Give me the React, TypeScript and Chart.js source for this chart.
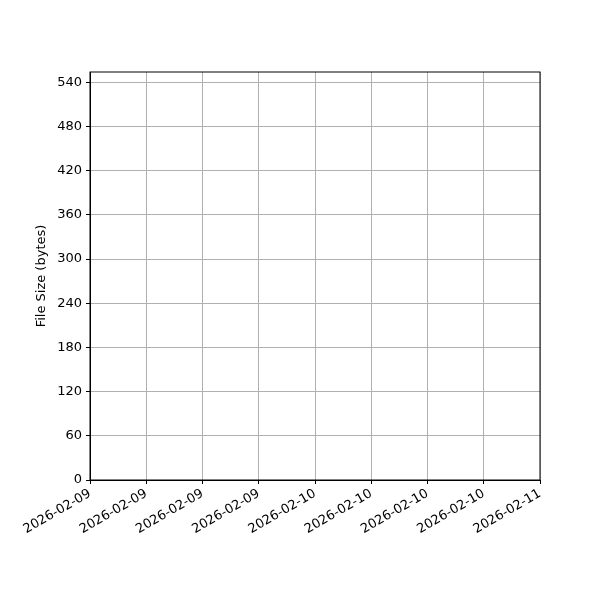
import { useEffect, useRef } from "react"
import Chart from "chart.js/auto"

// time axis: hours since 2026-02-09 00:00, ticks every 6 hours
const xTickLabels = [
  "2026-02-09",
  "2026-02-09",
  "2026-02-09",
  "2026-02-09",
  "2026-02-10",
  "2026-02-10",
  "2026-02-10",
  "2026-02-10",
  "2026-02-11",
]
const xStepHours = 6
const yTicksStep = 60
const yMax = 554

// the plot holds no visible points
const sampleHours: number[] = []
const fileSizes: number[] = []

const boxPlugin = {
  id: "box",
  afterDraw(chart: Chart) {
    const { ctx, chartArea } = chart
    ctx.save()
    ctx.strokeStyle = "#000"
    ctx.lineWidth = 1
    ctx.strokeRect(chartArea.left, chartArea.top, chartArea.right - chartArea.left, chartArea.bottom - chartArea.top)
    ctx.restore()
  },
}

export default function App() {
  const canvasRef = useRef<HTMLCanvasElement>(null)

  useEffect(() => {
    if (!canvasRef.current) return
    const font = { family: "DejaVu Sans", size: 13 }
    const chart = new Chart(canvasRef.current, {
      type: "line",
      data: {
        datasets: [
          {
            label: "File Size",
            data: sampleHours.map((h, i) => ({ x: h, y: fileSizes[i] })),
            borderColor: "#1f77b4",
            backgroundColor: "#1f77b4",
          },
        ],
      },
      options: {
        animation: false,
        responsive: false,
        layout: { padding: { top: 72, right: 60, left: 0, bottom: 0 } },
        plugins: { legend: { display: false }, tooltip: { enabled: false } },
        scales: {
          x: {
            type: "linear",
            min: 0,
            max: (xTickLabels.length - 1) * xStepHours,
            afterFit: (scale: any) => {
              scale.height = 120
            },
            ticks: {
              stepSize: xStepHours,
              autoSkip: false,
              minRotation: 30,
              maxRotation: 30,
              padding: 2,
              color: "#000",
              font,
              callback: (v: any) => xTickLabels[Math.round(Number(v) / xStepHours)] ?? "",
            },
            grid: { color: "#b0b0b0", tickColor: "#000", tickLength: 4 },
            border: { color: "#000" },
          },
          y: {
            min: 0,
            max: yMax,
            afterFit: (scale: any) => {
              scale.width = 90
            },
            title: {
              display: true,
              text: "File Size (bytes)",
              color: "#000",
              font,
              padding: { top: 34, bottom: 0 },
            },
            ticks: {
              stepSize: yTicksStep,
              includeBounds: false,
              padding: 4,
              color: "#000",
              font,
            },
            grid: { color: "#b0b0b0", tickColor: "#000", tickLength: 4 },
            border: { color: "#000" },
          },
        },
      },
      plugins: [boxPlugin],
    })
    return () => chart.destroy()
  }, [])

  return (
    <div style={{ position: "fixed", left: 0, top: 0, width: 600, height: 600, background: "#fff" }}>
      <canvas ref={canvasRef} width={600} height={600} />
    </div>
  )
}
